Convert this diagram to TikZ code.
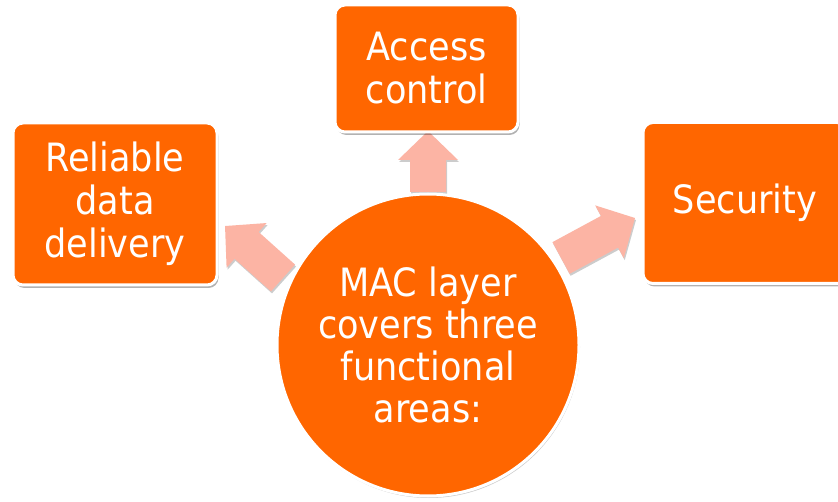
\documentclass[tikz,border=0pt]{standalone}
\usepackage{fontspec}
\newfontfamily\diagfont{DejaVu Sans Condensed}
\usetikzlibrary{shadows,calc,backgrounds}
\definecolor{boxorange}{RGB}{255,102,0}
\definecolor{arrowpink}{RGB}{252,180,164}
\tikzset{
  box/.style={rectangle, rounded corners=10pt, fill=boxorange, draw=white, line width=3pt,
    text=white, align=center, inner sep=0pt,
    font=\diagfont\fontsize{39}{43}\selectfont,
    drop shadow={shadow xshift=1.5pt, shadow yshift=-3pt, opacity=0.3, fill=black}},
  hub/.style={circle, fill=boxorange, draw=white, line width=3pt, text=white, align=center,
    inner sep=0pt, minimum size=302pt,
    font=\diagfont\fontsize{39}{42}\selectfont,
    drop shadow={shadow xshift=1pt, shadow yshift=-2pt, opacity=0.2, fill=black}},
  blockarrow/.style={fill=arrowpink,
    drop shadow={shadow xshift=1pt, shadow yshift=-2pt, opacity=0.2, fill=black}}
}
\newcommand{\blockarrow}[2]{%
  \path[blockarrow] let \p1=($(#2)-(#1)$), \n1={atan2(\y1,\x1)}, \n2={veclen(\x1,\y1)} in
    [shift={(#1)}, rotate=\n1]
    (0pt,-18pt) -- ({(\n2-29)*1pt},-18pt) -- ({(\n2-29)*1pt},-30pt) -- ({\n2*1pt},0pt)
    -- ({(\n2-29)*1pt},30pt) -- ({(\n2-29)*1pt},18pt) -- (0pt,18pt) -- cycle;}
\begin{document}
\begin{tikzpicture}[x=1pt,y=-1pt]
\useasboundingbox[fill=white] (0,0) rectangle (838,502);
% arrow end points
\coordinate (upT) at (428,192);
\coordinate (upH) at (428,131);
\coordinate (lfT) at (283,278);
\coordinate (lfH) at (225,226);
\coordinate (rtT) at (561,258);
\coordinate (rtH) at (635,218);
\blockarrow{upT}{upH}
\blockarrow{lfT}{lfH}
\blockarrow{rtT}{rtH}
% nodes
\node[box, minimum width=204pt, minimum height=162pt] (rel) at (115,204) {Reliable\\data\\delivery};
\node[box, minimum width=183pt, minimum height=127pt] (acc) at (426.5,68.5) {Access\\control};
\node[box, minimum width=204pt, minimum height=161pt] (sec) at (745,203) {Security};
\node[hub] (mac) at (428,345) {MAC layer\\covers three\\functional\\areas:};
\end{tikzpicture}
\end{document}
